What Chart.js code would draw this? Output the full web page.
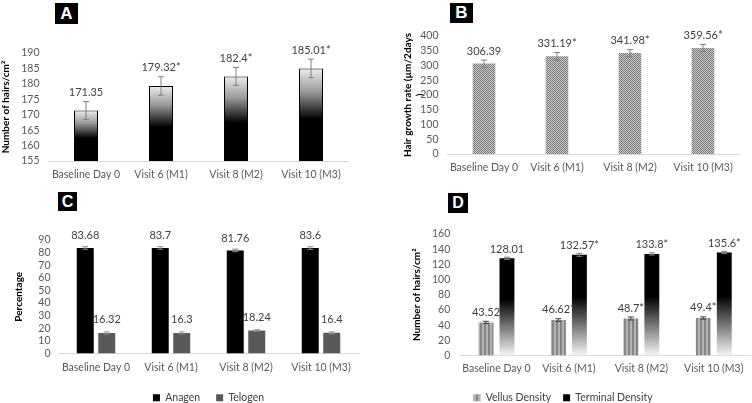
<!DOCTYPE html>
<html>
<head>
<meta charset="utf-8">
<script src="https://cdn.jsdelivr.net/npm/chart.js@4.4.1/dist/chart.umd.min.js"></script>
<style>
  body { margin: 0; background: #fff; width: 752px; height: 403px; position: relative; overflow: hidden; }
  .panel { position: absolute; }
  .tag {
    position: absolute; background: #000; color: #fff; text-align: center;
    font: bold 17px "Liberation Sans", Arial, sans-serif;
  }
</style>
</head>
<body>
<div class="tag" style="left:55px;top:3px;width:23px;height:21px;line-height:21px;">A</div>
<div class="tag" style="left:450px;top:3px;width:23px;height:20px;line-height:20px;">B</div>
<div class="tag" style="left:58px;top:192px;width:19px;height:19px;line-height:19px;font-size:16px;">C</div>
<div class="tag" style="left:448px;top:193px;width:20px;height:20px;line-height:20px;font-size:16px;">D</div>

<div class="panel" style="left:0;top:30px;width:356px;height:155px;"><canvas id="chartA"></canvas></div>
<div class="panel" style="left:376px;top:20px;width:376px;height:165px;"><canvas id="chartB"></canvas></div>
<div class="panel" style="left:0;top:205px;width:376px;height:208px;"><canvas id="chartC"></canvas></div>
<div class="panel" style="left:376px;top:205px;width:376px;height:208px;"><canvas id="chartD"></canvas></div>

<script>
const visits = ['Baseline Day 0', 'Visit 6 (M1)', 'Visit 8 (M2)', 'Visit 10 (M3)'];

// A - hair count
const hairCount = [171.35, 179.32, 182.4, 185.01];
const hairCountErr = [2.9, 3, 2.9, 3];
const hairCountLabels = ['171.35', '179.32*', '182.4*', '185.01*'];

// B - growth rate
const growthRate = [306.39, 331.19, 341.98, 359.56];
const growthRateErr = [12, 13, 12, 12];
const growthRateLabels = ['306.39', '331.19*', '341.98*', '359.56*'];

// C - anagen / telogen
const anagen = [83.68, 83.7, 81.76, 83.6];
const anagenErr = [1, 1, 1, 1];
const telogen = [16.32, 16.3, 18.24, 16.4];
const telogenErr = [0.8, 0.8, 0.6, 0.8];

// D - vellus / terminal density
const vellus = [43.52, 46.62, 48.7, 49.4];
const vellusErr = [1.5, 1.8, 2, 1.5];
const vellusLabels = ['43.52', '46.62*', '48.7*', '49.4*'];
const terminal = [128.01, 132.57, 133.8, 135.6];
const terminalErr = [1.5, 2, 1.5, 1.5];
const terminalLabels = ['128.01', '132.57*', '133.8*', '135.6*'];

const FONT = 'Lato, "Noto Sans", sans-serif';
const TICK = '#595959';

function makePattern(w, h, draw) {
  const c = document.createElement('canvas');
  c.width = w; c.height = h;
  draw(c.getContext('2d'));
  return c.getContext('2d').createPattern(c, 'repeat');
}

const checker = makePattern(2, 2, (g) => {
  g.fillStyle = '#cdcdcd'; g.fillRect(0, 0, 2, 2);
  g.fillStyle = '#777'; g.fillRect(0, 0, 1, 1); g.fillRect(1, 1, 1, 1);
});
const stripes = makePattern(4, 4, (g) => {
  g.fillStyle = '#b4b4b4'; g.fillRect(0, 0, 4, 4);
  g.fillStyle = '#858585'; g.fillRect(0, 0, 2, 4);
});

// gradient per bar, from bar top down to the axis
function barGradient(stops, fallback) {
  return (ctx) => {
    const chart = ctx.chart;
    if (ctx.type !== 'data' || !chart.chartArea) return fallback;
    const top = chart.scales.y.getPixelForValue(ctx.raw);
    const g = chart.ctx.createLinearGradient(0, top, 0, chart.chartArea.bottom);
    stops.forEach(([p, c]) => g.addColorStop(p, c));
    return g;
  };
}

const errorBars = {
  id: 'errorBars',
  afterDatasetsDraw(chart) {
    const { ctx } = chart;
    const y = chart.scales.y;
    chart.data.datasets.forEach((ds, i) => {
      if (!ds.errors) return;
      chart.getDatasetMeta(i).data.forEach((bar, j) => {
        const v = ds.data[j], e = ds.errors[j];
        const top = y.getPixelForValue(v + e), bot = y.getPixelForValue(v - e);
        ctx.save();
        ctx.strokeStyle = ds.errorColor || '#7f7f7f';
        ctx.lineWidth = 1;
        ctx.beginPath();
        ctx.moveTo(bar.x, top); ctx.lineTo(bar.x, bot);
        ctx.moveTo(bar.x - 3, top); ctx.lineTo(bar.x + 3, top);
        ctx.moveTo(bar.x - 3, bot); ctx.lineTo(bar.x + 3, bot);
        ctx.stroke();
        ctx.restore();
      });
    });
  },
};

const valueLabels = {
  id: 'valueLabels',
  afterDatasetsDraw(chart) {
    const { ctx } = chart;
    const y = chart.scales.y;
    chart.data.datasets.forEach((ds, i) => {
      chart.getDatasetMeta(i).data.forEach((bar, j) => {
        const text = ds.valueLabels ? ds.valueLabels[j] : String(ds.data[j]);
        const top = y.getPixelForValue(ds.data[j] + (ds.errors ? ds.errors[j] : 0));
        ctx.save();
        ctx.fillStyle = '#404040';
        ctx.font = '11px ' + FONT;
        ctx.textAlign = 'center';
        ctx.textBaseline = 'middle';
        ctx.fillText(text, bar.x, top - (ds.labelGap || 9));
        ctx.restore();
      });
    });
  },
};

function legendLabels(chart) {
  return Chart.defaults.plugins.legend.labels.generateLabels(chart).map((l) => {
    const ds = chart.data.datasets[l.datasetIndex];
    if (ds.legendColor) l.fillStyle = ds.legendColor;
    l.strokeStyle = 'transparent';
    return l;
  });
}

function panelOptions(o) {
  return {
    responsive: true,
    maintainAspectRatio: false,
    animation: false,
    layout: { padding: o.padding },
    plugins: {
      legend: o.legend
        ? {
            position: 'bottom',
            fullSize: o.legendFull,
            labels: {
              boxWidth: 7, boxHeight: 7, padding: o.legendGap, color: '#404040',
              font: { size: 10.5, family: FONT }, generateLabels: legendLabels,
            },
          }
        : { display: false },
      tooltip: { enabled: false },
    },
    scales: {
      x: {
        grid: { display: false, drawTicks: false },
        border: { color: '#d9d9d9' },
        ticks: {
          color: TICK, padding: o.xPad, autoSkip: false, maxRotation: 0, minRotation: 0,
          font: { size: 10.5, family: FONT },
        },
        afterFit: (s) => { s.height = o.xHeight; },
      },
      y: {
        min: o.min,
        max: o.max,
        grid: { display: false, drawTicks: false },
        border: { display: false },
        ticks: { stepSize: o.step, autoSkip: false, color: TICK, padding: o.tickPad, font: { size: 10.5, family: FONT } },
        title: {
          display: true, text: o.title, color: '#000', padding: { top: o.titlePad, bottom: 0 },
          font: { size: 10, weight: 'bold', family: FONT },
        },
        afterFit: (s) => { s.width = o.yWidth; },
      },
    },
  };
}

new Chart(document.getElementById('chartA'), {
  type: 'bar',
  data: {
    labels: visits,
    datasets: [{
      data: hairCount,
      errors: hairCountErr,
      valueLabels: hairCountLabels,
      backgroundColor: barGradient([[0, '#ededed'], [0.25, '#9a9a9a'], [0.55, '#000'], [1, '#000']], '#000'),
      borderColor: '#000',
      borderWidth: 1,
      barPercentage: 0.32,
      categoryPercentage: 1,
    }],
  },
  options: panelOptions({
    min: 155, max: 190, step: 5, title: 'Number of hairs/cm²',
    yWidth: 48.5, xHeight: 24, xPad: 7, tickPad: 9, titlePad: 0,
    padding: { top: 23, right: 7.5, left: 0, bottom: 0 },
  }),
  plugins: [errorBars, valueLabels],
});

new Chart(document.getElementById('chartB'), {
  type: 'bar',
  data: {
    labels: visits,
    datasets: [{
      data: growthRate,
      errors: growthRateErr,
      valueLabels: growthRateLabels,
      backgroundColor: checker,
      barPercentage: 0.31,
      categoryPercentage: 1,
    }],
  },
  options: panelOptions({
    min: 0, max: 400, step: 50, title: ['Hair growth rate (µm/2days', ')'],
    yWidth: 71.5, xHeight: 31, xPad: 7, tickPad: 9, titlePad: 26,
    padding: { top: 16, right: 12.5, left: 0, bottom: 0 },
  }),
  plugins: [errorBars, valueLabels],
});

new Chart(document.getElementById('chartC'), {
  type: 'bar',
  data: {
    labels: visits,
    datasets: [
      {
        label: 'Anagen',
        data: anagen,
        errors: anagenErr,
        errorColor: '#8c8c8c',
        labelGap: 11,
        backgroundColor: '#000',
        barPercentage: 0.79,
        categoryPercentage: 0.573,
      },
      {
        label: 'Telogen',
        data: telogen,
        errors: telogenErr,
        errorColor: '#8c8c8c',
        labelGap: 12,
        backgroundColor: '#595959',
        barPercentage: 0.79,
        categoryPercentage: 0.573,
      },
    ],
  },
  options: panelOptions({
    min: 0, max: 90, step: 10, title: 'Percentage',
    yWidth: 58.5, xHeight: 23, xPad: 8, tickPad: 8, titlePad: 13,
    legend: true, legendGap: 16, legendFull: false,
    padding: { top: 35, right: 17.5, left: 0, bottom: 0 },
  }),
  plugins: [errorBars, valueLabels],
});

new Chart(document.getElementById('chartD'), {
  type: 'bar',
  data: {
    labels: visits,
    datasets: [
      {
        label: 'Vellus Density',
        data: vellus,
        errors: vellusErr,
        errorColor: '#404040',
        valueLabels: vellusLabels,
        backgroundColor: stripes,
        barPercentage: 0.71,
        categoryPercentage: 0.58,
      },
      {
        label: 'Terminal Density',
        data: terminal,
        errors: terminalErr,
        errorColor: '#808080',
        valueLabels: terminalLabels,
        labelGap: 8,
        legendColor: '#000',
        backgroundColor: barGradient([[0, '#000'], [0.42, '#000'], [1, '#f4f4f4']], '#000'),
        barPercentage: 0.71,
        categoryPercentage: 0.58,
      },
    ],
  },
  options: panelOptions({
    min: 0, max: 160, step: 20, title: 'Number of hairs/cm²',
    yWidth: 84.25, xHeight: 25, xPad: 7, tickPad: 10, titlePad: 35,
    legend: true, legendGap: 12, legendFull: true,
    padding: { top: 29, right: 2, left: 0, bottom: 0 },
  }),
  plugins: [errorBars, valueLabels],
});
</script>
</body>
</html>
